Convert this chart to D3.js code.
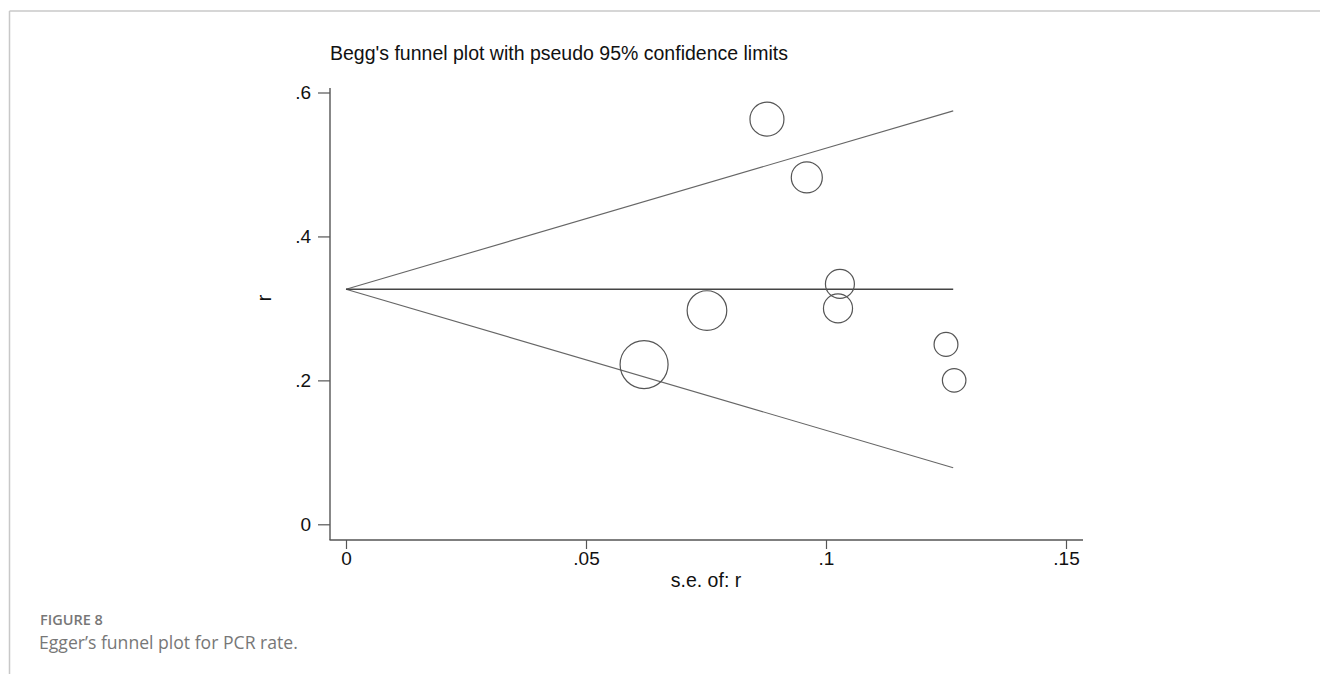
<!DOCTYPE html>
<html>
<head>
<meta charset="utf-8">
<script src="https://cdn.jsdelivr.net/npm/d3@7"></script>
<style>
  html, body { margin: 0; padding: 0; background: #fff; }
  svg { display: block; }
</style>
</head>
<body>
<svg id="chart" width="1320" height="674"></svg>
<script>
// ---- data ----
const studySE = [0.0877, 0.0960, 0.1029, 0.1025, 0.0752, 0.0621, 0.1250, 0.1267];
const studyR  = [0.563, 0.482, 0.334, 0.300, 0.297, 0.222, 0.250, 0.200];
const pooledR = 0.3266;
const limitSE = [0, 0.1265];
const upperLimit = [0.3266, 0.5745];
const lowerLimit = [0.3266, 0.0787];
const xTicks = [0, 0.05, 0.1, 0.15];
const xTickLabels = ["0", ".05", ".1", ".15"];
const yTicks = [0, 0.2, 0.4, 0.6];
const yTickLabels = ["0", ".2", ".4", ".6"];
const titleText = "Begg's funnel plot with pseudo 95% confidence limits";
const xTitle = "s.e. of: r";
const yTitle = "r";
const figLabel = "FIGURE 8";
const figCaption = "Egger\u2019s funnel plot for PCR rate.";

// ---- layout ----
const svg = d3.select("#chart");
const font = "'Liberation Sans', Arial, sans-serif";
const x = d3.scaleLinear().domain([0, 0.15]).range([346, 1066]);
const y = d3.scaleLinear().domain([0, 0.6]).range([524.3, 92.5]);
const weights = studySE.map(s => 1 / (s * s));
const rScale = d3.scaleSqrt().domain([0, d3.max(weights)]).range([0, 24]);

// page frame
svg.append("line").attr("x1", 9.5).attr("x2", 9.5).attr("y1", 11).attr("y2", 674)
  .attr("stroke", "#c8c8c8").attr("stroke-width", 1.5);
svg.append("line").attr("x1", 9.5).attr("x2", 1320).attr("y1", 11).attr("y2", 11)
  .attr("stroke", "#c8c8c8").attr("stroke-width", 1.5);

// title
svg.append("text").attr("x", 330).attr("y", 60).text(titleText)
  .attr("font-family", font).attr("font-size", 19.5).attr("fill", "#111");

// axes
const axisColor = "#555";
const yAxis = d3.axisLeft(y).tickValues(yTicks).tickFormat((d, i) => yTickLabels[i]).tickSize(12).tickPadding(7);
const gy = svg.append("g").attr("transform", "translate(330,0)").call(yAxis);
gy.select(".domain").attr("d", "M0,88V540");
const xAxis = d3.axisBottom(x).tickValues(xTicks).tickFormat((d, i) => xTickLabels[i]).tickSize(9).tickPadding(3);
const gx = svg.append("g").attr("transform", "translate(0,540)").call(xAxis);
gx.select(".domain").attr("d", "M329.5,0H1083");
[gx, gy].forEach(g => {
  g.selectAll(".domain").attr("stroke", axisColor).attr("stroke-width", 1.4);
  g.selectAll(".tick line").attr("stroke", axisColor).attr("stroke-width", 1.2);
  g.selectAll(".tick text").attr("font-family", font).attr("font-size", 19).attr("fill", "#111");
});

// axis titles
svg.append("text").attr("x", 706).attr("y", 587).attr("text-anchor", "middle").text(xTitle)
  .attr("font-family", font).attr("font-size", 19.5).attr("fill", "#111");
svg.append("text").attr("transform", "translate(271,298) rotate(-90)").attr("text-anchor", "middle").text(yTitle)
  .attr("font-family", font).attr("font-size", 19.5).attr("fill", "#111");

// funnel lines
const line = d3.line().x(d => x(d[0])).y(d => y(d[1]));
svg.append("path").attr("d", line(limitSE.map((s, i) => [s, upperLimit[i]])))
  .attr("fill", "none").attr("stroke", "#666").attr("stroke-width", 1.1);
svg.append("path").attr("d", line(limitSE.map((s, i) => [s, lowerLimit[i]])))
  .attr("fill", "none").attr("stroke", "#666").attr("stroke-width", 1.1);
svg.append("path").attr("d", line(limitSE.map(s => [s, pooledR])))
  .attr("fill", "none").attr("stroke", "#444").attr("stroke-width", 1.3);

// studies
svg.append("g").selectAll("circle").data(studySE).join("circle")
  .attr("cx", d => x(d)).attr("cy", (d, i) => y(studyR[i]))
  .attr("r", (d, i) => rScale(weights[i]))
  .attr("fill", "none").attr("stroke", "#555").attr("stroke-width", 1.2);

// caption
const capFont = "'Open Sans', 'Noto Sans', sans-serif";
svg.append("text").attr("x", 40).attr("y", 625).text(figLabel)
  .attr("font-family", capFont).attr("font-size", 14.5).attr("font-weight", 600).attr("fill", "#777");
svg.append("text").attr("x", 39).attr("y", 649).text(figCaption)
  .attr("font-family", capFont).attr("font-size", 17.6).attr("fill", "#777");
</script>
</body>
</html>
